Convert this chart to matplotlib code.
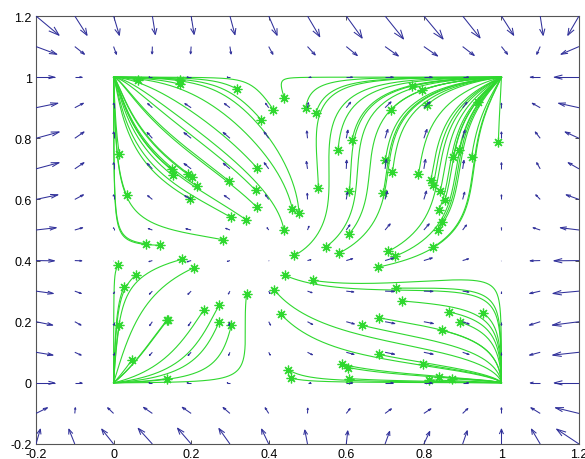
import numpy as np
import matplotlib
matplotlib.use("Agg")
import matplotlib.pyplot as plt
from matplotlib.collections import LineCollection

# ---------------- data ----------------
grid_vals = np.round(np.arange(-0.2, 1.2001, 0.1), 10)   # quiver grid (both axes)
tick_vals = [-0.2, 0, 0.2, 0.4, 0.6, 0.8, 1.0, 1.2]
tick_labels = ["-0.2", "0", "0.2", "0.4", "0.6", "0.8", "1", "1.2"]

# starting points of the trajectories (green asterisks)
start_x = [0.063, 0.170, 0.171, 0.317, 0.412, 0.380, 0.015, 0.034, 0.150, 0.152,
           0.193, 0.201, 0.214, 0.197, 0.298, 0.369, 0.366, 0.369, 0.302, 0.341,
           0.461, 0.478, 0.439, 0.283, 0.084, 0.120,
           0.440, 0.496, 0.522, 0.528, 0.579, 0.615, 0.608, 0.715, 0.769, 0.794,
           0.807, 0.939, 0.992, 0.701, 0.719, 0.786, 0.891, 0.876, 0.923, 0.818,
           0.824, 0.842, 0.854, 0.839, 0.846, 0.695, 0.836, 0.608, 0.466, 0.547,
           0.582, 0.708, 0.725, 0.824, 0.683,
           0.176, 0.208, 0.012, 0.057, 0.027, 0.015, 0.137, 0.140, 0.233, 0.272,
           0.272, 0.304, 0.343, 0.048, 0.137,
           0.442, 0.515, 0.414, 0.432, 0.727, 0.744, 0.865, 0.952, 0.684, 0.641,
           0.893, 0.846, 0.684, 0.797, 0.588, 0.605, 0.450, 0.457, 0.608, 0.814,
           0.840, 0.873]
start_y = [0.990, 0.992, 0.977, 0.962, 0.893, 0.861, 0.748, 0.613, 0.698, 0.679,
           0.684, 0.673, 0.644, 0.602, 0.660, 0.704, 0.630, 0.575, 0.542, 0.534,
           0.568, 0.557, 0.501, 0.468, 0.455, 0.450,
           0.933, 0.900, 0.883, 0.639, 0.763, 0.795, 0.629, 0.893, 0.970, 0.957,
           0.908, 0.919, 0.788, 0.730, 0.690, 0.682, 0.763, 0.738, 0.739, 0.663,
           0.646, 0.627, 0.597, 0.566, 0.526, 0.621, 0.501, 0.488, 0.417, 0.444,
           0.425, 0.430, 0.414, 0.444, 0.379,
           0.404, 0.377, 0.384, 0.352, 0.313, 0.188, 0.205, 0.207, 0.239, 0.254,
           0.199, 0.190, 0.290, 0.076, 0.014,
           0.352, 0.335, 0.305, 0.224, 0.310, 0.268, 0.232, 0.229, 0.213, 0.188,
           0.199, 0.172, 0.093, 0.061, 0.061, 0.050, 0.043, 0.016, 0.014, 0.010,
           0.019, 0.014]

# parameters of the dynamical system (two populations, four stable corners)
a_x, b_y = 0.40, 0.41
k_low, k_ul = 0.45, 0.60
k_r0, k_r1, x_r = 0.60, 3.2, 0.50
m_left, m_right_low, m_right_up = 0.30, 0.38, 0.60
drift_above, shear_above = 0.35, 0.25
drift_below, shear_below = 0.23, 0.46
sw = 0.04


def step_fn(z):
    return 0.5 * (1 + np.tanh(z / sw))


def field(x, y):
    wy = np.clip(4 * y * (1 - y), 0, None)
    wx = np.clip(4 * x * (1 - x), 0, None)
    sx = step_fn(x - a_x)
    sy = step_fn(y - b_y)
    sr = step_fn(x - x_r)
    k_r = k_r0 + k_r1 * np.clip(x - x_r, 0, 0.5)
    c_up = (1 - sr) * k_ul * wy + sr * k_r * wy ** 2
    c = k_low * wy * (1 - sy) + c_up * sy
    m_right = m_right_low + (m_right_up - m_right_low) * sy
    m = m_left + (m_right - m_left) * sx
    F = (x - a_x) - c * (y - b_y)
    G = (y - b_y) + m * (x - a_x) * wx
    above = np.clip(y - 1, 0, None)
    below = np.clip(-y, 0, None)
    drift = (above * (drift_above + shear_above * (x - 0.5))
             + below * (-drift_below + shear_below * (x - 0.5)))
    return x * (1 - x) * F + drift, y * (1 - y) * G


# ---------------- figure ----------------
fig = plt.figure(figsize=(5.85, 4.6), dpi=100)
ax = fig.add_axes([36 / 585, 15 / 460, 543 / 585, 428 / 460])

# trajectories (RK4)
px = np.array(start_x, float)
py = np.array(start_y, float)
dt, nsteps = 0.1, 1500
xs = [px.copy()]
ys = [py.copy()]
for _ in range(nsteps):
    k1 = field(px, py)
    k2 = field(px + 0.5 * dt * k1[0], py + 0.5 * dt * k1[1])
    k3 = field(px + 0.5 * dt * k2[0], py + 0.5 * dt * k2[1])
    k4 = field(px + dt * k3[0], py + dt * k3[1])
    px = px + dt / 6 * (k1[0] + 2 * k2[0] + 2 * k3[0] + k4[0])
    py = py + dt / 6 * (k1[1] + 2 * k2[1] + 2 * k3[1] + k4[1])
    xs.append(px.copy())
    ys.append(py.copy())
xs = np.array(xs)
ys = np.array(ys)
green = "#2fd82f"
for i in range(xs.shape[1]):
    ax.plot(xs[:, i], ys[:, i], color=green, lw=0.8, zorder=2)
ax.plot(start_x, start_y, linestyle="none", marker=(8, 2, 0), color=green,
        markersize=7, markeredgewidth=0.9, zorder=2.5)

# quiver, MATLAB style (autoscale 0.9, open heads)
X, Y = np.meshgrid(grid_vals, grid_vals)
U, V = field(X, Y)
d = 0.1
lens = np.sqrt((U / d) ** 2 + (V / d) ** 2)
s = 0.9 / lens.max()
U = U * s
V = V * s
alpha, beta = 0.33, 0.33
segs = []
for x0, y0, u, v in zip(X.ravel(), Y.ravel(), U.ravel(), V.ravel()):
    tx, ty = x0 + u, y0 + v
    segs.append([(x0, y0), (tx, ty)])
    segs.append([(tx - alpha * (u + beta * v), ty - alpha * (v - beta * u)), (tx, ty),
                 (tx - alpha * (u - beta * v), ty - alpha * (v + beta * u))])
ax.add_collection(LineCollection(segs, colors="#30309a", linewidths=0.75, zorder=3))

ax.set_xlim(-0.2, 1.2)
ax.set_ylim(-0.2, 1.2)
ax.set_xticks(tick_vals)
ax.set_xticklabels(tick_labels)
ax.set_yticks(tick_vals)
ax.set_yticklabels(tick_labels)
ax.tick_params(direction="in", length=3, width=0.6, top=True, right=True,
               labelsize=9, pad=3, colors="#333333", labelcolor="black")
for lab in ax.get_xticklabels() + ax.get_yticklabels():
    lab.set_fontfamily("Liberation Sans")
for sp in ax.spines.values():
    sp.set_linewidth(0.8)
    sp.set_color("#555555")

fig.savefig("out.png", dpi=100)
